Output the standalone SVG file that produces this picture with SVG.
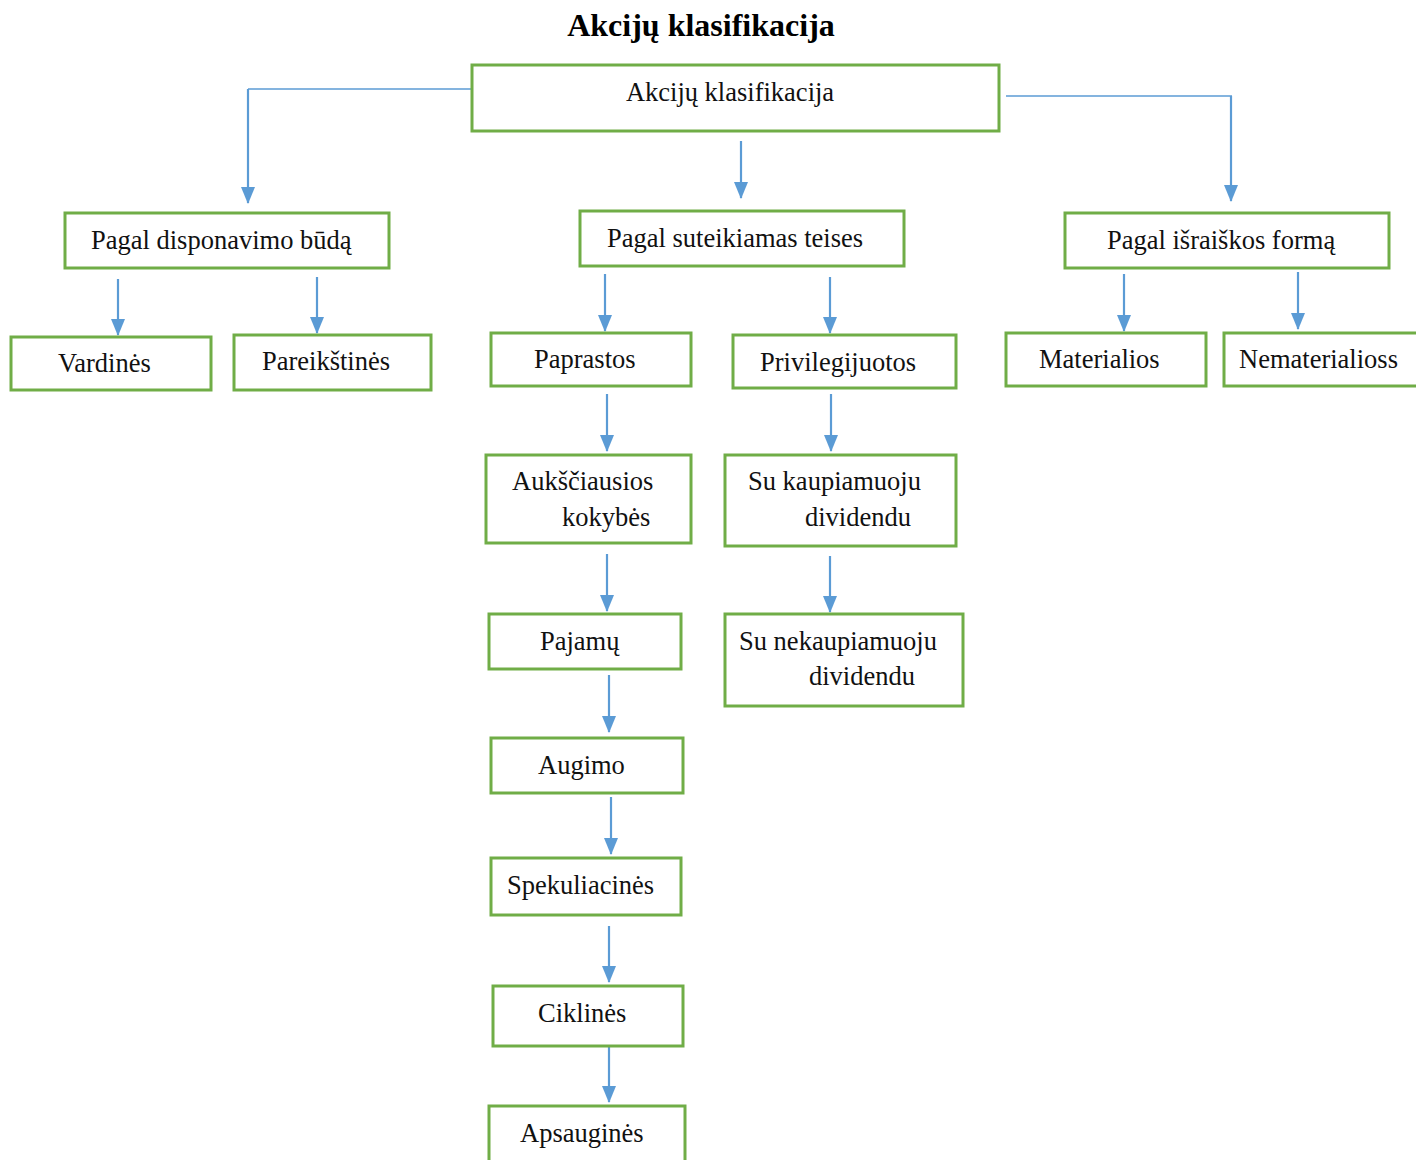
<svg xmlns="http://www.w3.org/2000/svg" width="1416" height="1160" viewBox="0 0 1416 1160">
<style>
.box{fill:#fff;stroke:#70AD47;stroke-width:3}
.t{font-family:"Liberation Serif","Times New Roman",serif;font-size:26.5px;fill:#111}
.title{font-family:"Liberation Serif","Times New Roman",serif;font-size:32px;font-weight:bold;fill:#000}
.c{fill:none;stroke:#5B9BD5;stroke-width:2.2}
.h{fill:none;stroke:#5B9BD5;stroke-width:1.5}
</style>
<defs>
<marker id="a" markerUnits="userSpaceOnUse" markerWidth="17" markerHeight="16" viewBox="0 0 17 16" refX="16" refY="8" orient="auto">
<path d="M0,1 L17,8 L0,15 Z" fill="#5B9BD5"/>
</marker>
</defs>
<rect width="1416" height="1160" fill="#fff"/>
<text class="title" x="701" y="36" text-anchor="middle">Akcijų klasifikacija</text>

<g id="connectors">
<path class="h" d="M474,89 H248"/>
<path class="c" d="M248,89 V203" marker-end="url(#a)"/>
<path class="h" d="M1006,96 H1232"/>
<path class="c" d="M1231,96 V201" marker-end="url(#a)"/>
<path class="c" d="M741,141 V198" marker-end="url(#a)"/>
<path class="c" d="M118,279 V335" marker-end="url(#a)"/>
<path class="c" d="M317,277 V333" marker-end="url(#a)"/>
<path class="c" d="M605,274 V331" marker-end="url(#a)"/>
<path class="c" d="M830,277 V333" marker-end="url(#a)"/>
<path class="c" d="M1124,274 V331" marker-end="url(#a)"/>
<path class="c" d="M1298,272 V329" marker-end="url(#a)"/>
<path class="c" d="M607,394 V451" marker-end="url(#a)"/>
<path class="c" d="M831,394 V451" marker-end="url(#a)"/>
<path class="c" d="M607,554 V611" marker-end="url(#a)"/>
<path class="c" d="M830,556 V612" marker-end="url(#a)"/>
<path class="c" d="M609,675 V732" marker-end="url(#a)"/>
<path class="c" d="M611,797 V854" marker-end="url(#a)"/>
<path class="c" d="M609,926 V982" marker-end="url(#a)"/>
<path class="c" d="M609,1046 V1102" marker-end="url(#a)"/>
</g>

<g id="n-root"><rect class="box" x="472" y="65" width="527" height="66"/><text class="t" x="730" y="101" text-anchor="middle">Akcijų klasifikacija</text></g>
<g id="n-disp"><rect class="box" x="65" y="213" width="324" height="55"/><text class="t" x="91" y="249">Pagal disponavimo būdą</text></g>
<g id="n-teis"><rect class="box" x="580" y="211" width="324" height="55"/><text class="t" x="607" y="247">Pagal suteikiamas teises</text></g>
<g id="n-form"><rect class="box" x="1065" y="213" width="324" height="55"/><text class="t" x="1107" y="249">Pagal išraiškos formą</text></g>
<g id="n-vard"><rect class="box" x="11" y="337" width="200" height="53"/><text class="t" x="58" y="372">Vardinės</text></g>
<g id="n-pare"><rect class="box" x="234" y="335" width="197" height="55"/><text class="t" x="262" y="370">Pareikštinės</text></g>
<g id="n-papr"><rect class="box" x="491" y="333" width="200" height="53"/><text class="t" x="534" y="368">Paprastos</text></g>
<g id="n-priv"><rect class="box" x="733" y="335" width="223" height="53"/><text class="t" x="760" y="371">Privilegijuotos</text></g>
<g id="n-mat"><rect class="box" x="1006" y="333" width="200" height="53"/><text class="t" x="1039" y="368">Materialios</text></g>
<g id="n-nemat"><rect class="box" x="1224" y="333" width="196" height="53"/><text class="t" x="1239" y="368">Nematerialioss</text></g>
<g id="n-auks"><rect class="box" x="486" y="455" width="205" height="88"/><text class="t" x="512" y="490">Aukščiausios</text><text class="t" x="562" y="526">kokybės</text></g>
<g id="n-kaup"><rect class="box" x="725" y="455" width="231" height="91"/><text class="t" x="748" y="490">Su kaupiamuoju</text><text class="t" x="805" y="526">dividendu</text></g>
<g id="n-paj"><rect class="box" x="489" y="614" width="192" height="55"/><text class="t" x="540" y="650">Pajamų</text></g>
<g id="n-nekaup"><rect class="box" x="725" y="614" width="238" height="92"/><text class="t" x="739" y="650">Su nekaupiamuoju</text><text class="t" x="809" y="685">dividendu</text></g>
<g id="n-aug"><rect class="box" x="491" y="738" width="192" height="55"/><text class="t" x="538" y="774">Augimo</text></g>
<g id="n-spek"><rect class="box" x="491" y="858" width="190" height="57"/><text class="t" x="507" y="894">Spekuliacinės</text></g>
<g id="n-cikl"><rect class="box" x="493" y="986" width="190" height="60"/><text class="t" x="538" y="1022">Ciklinės</text></g>
<g id="n-aps"><rect class="box" x="489" y="1106" width="196" height="60"/><text class="t" x="520" y="1142">Apsauginės</text></g>
</svg>
